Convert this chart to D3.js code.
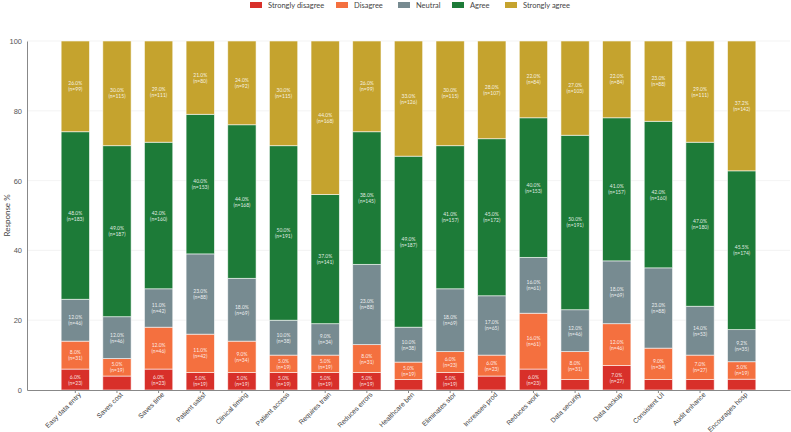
<!DOCTYPE html>
<html>
<head>
<meta charset="utf-8">
<script src="https://cdn.jsdelivr.net/npm/d3@7"></script>
<style>
  body { margin: 0; background: #fff; }
  svg { font-family: Lato, "Open Sans", sans-serif; }
</style>
</head>
<body>
<svg id="chart" width="791" height="432"></svg>
<script>
// survey items, left to right
let categories = ["Easy data entry", "Saves cost", "Saves time", "Patient satisf", "Clinical timing",
  "Patient access", "Requires train", "Reduces errors", "Healthcare ben", "Eliminates stor",
  "Increases prod", "Reduces work", "Data security", "Data backup", "Consistent UI",
  "Audit enhance", "Encourages hosp"]

let levels = ["Strongly disagree", "Disagree", "Neutral", "Agree", "Strongly agree"]

// percent of responses per level
let stronglyDisagreePct = [6, 4, 6, 5, 5, 5, 5, 5, 3, 5, 4, 6, 3, 7, 3, 3, 3.1]
let disagreePct = [8, 5, 12, 11, 9, 5, 5, 8, 5, 6, 6, 16, 8, 12, 9, 7, 5]
let neutralPct = [12, 12, 11, 23, 18, 10, 9, 23, 10, 18, 17, 16, 12, 18, 23, 14, 9.2]
let agreePct = [48, 49, 42, 40, 44, 50, 37, 38, 49, 41, 45, 40, 50, 41, 42, 47, 45.5]
let stronglyAgreePct = [26, 30, 29, 21, 24, 30, 44, 26, 33, 30, 28, 22, 27, 22, 23, 29, 37.2]

// counts per level
let stronglyDisagreeN = [23, 15, 23, 19, 19, 19, 19, 19, 11, 19, 15, 23, 11, 27, 11, 11, 12]
let disagreeN = [31, 19, 46, 42, 34, 19, 19, 31, 19, 23, 23, 61, 31, 46, 34, 27, 19]
let neutralN = [46, 46, 42, 88, 69, 38, 34, 88, 38, 69, 65, 61, 46, 69, 88, 53, 35]
let agreeN = [183, 187, 160, 153, 168, 191, 141, 145, 187, 157, 172, 153, 191, 157, 160, 180, 174]
let stronglyAgreeN = [99, 115, 111, 80, 92, 115, 168, 99, 126, 115, 107, 84, 103, 84, 88, 111, 142]

let yTicks = [0, 20, 40, 60, 80, 100]

let colors = ["#d8302a", "#f4703f", "#778b91", "#1d7b38", "#c5a32e"]

let pcts = [stronglyDisagreePct, disagreePct, neutralPct, agreePct, stronglyAgreePct]
let counts = [stronglyDisagreeN, disagreeN, neutralN, agreeN, stronglyAgreeN]

let table = categories.map(function(c, i) {
  let row = { category: c }
  levels.forEach(function(l, j) {
    row[l] = pcts[j][i]
    row[l + "_n"] = counts[j][i]
  })
  return row
})

let margin = { top: 41, left: 27, right: 1, bottom: 42 },
  width = 791 - margin.left - margin.right,
  height = 432 - margin.top - margin.bottom

let svg = d3.select("#chart")
let g = svg.append("g").attr("transform", "translate(" + margin.left + "," + margin.top + ")")

let x = d3.scaleBand()
  .domain(categories)
  .range([0, width])
  .paddingInner(0.32)
  .paddingOuter(0.82)

let y = d3.scaleLinear().domain([0, 100]).range([height, 0])

// grid
g.append("g").selectAll("line")
  .data(yTicks.slice(1))
  .enter().append("line")
  .attr("x1", 0).attr("x2", width)
  .attr("y1", d => y(d)).attr("y2", d => y(d))
  .attr("stroke", "#f0f0f0")
  .attr("stroke-width", 0.8)

let stacked = d3.stack().keys(levels)(table)

let layer = g.selectAll(".layer")
  .data(stacked)
  .enter().append("g")
  .attr("class", "layer")
  .attr("fill", (d, i) => colors[i])

layer.selectAll("rect")
  .data(d => d.map(s => Object.assign(s, { key: d.key })))
  .enter().append("rect")
  .attr("x", d => x(d.data.category))
  .attr("width", x.bandwidth())
  .attr("y", d => y(d[1]))
  .attr("height", d => y(d[0]) - y(d[1]))
  .attr("stroke", "#ffffff")
  .attr("stroke-opacity", 0.7)
  .attr("stroke-width", 0.8)

// segment labels
let labels = layer.selectAll("text")
  .data(d => d.filter(s => s.data[s.key] >= 5))
  .enter().append("text")
  .attr("text-anchor", "middle")
  .attr("fill", "#ffffff")
  .attr("fill-opacity", 0.88)
  .style("font-size", "5px")
  .attr("transform", d => "translate(" + (x(d.data.category) + x.bandwidth() / 2) + "," + ((y(d[0]) + y(d[1])) / 2) + ")")

labels.append("tspan").attr("x", 0).attr("y", -1)
  .text(d => d.data[d.key].toFixed(1) + "%")
labels.append("tspan").attr("x", 0).attr("y", 5)
  .text(d => "(n=" + d.data[d.key + "_n"] + ")")

// axes
let yAxis = g.append("g")
  .call(d3.axisLeft(y).tickValues(yTicks).tickSize(0).tickPadding(5))
yAxis.select(".domain").attr("stroke", "#888").attr("stroke-width", 1)
yAxis.selectAll("text").style("font-size", "7.5px").attr("fill", "#555")

let xAxis = g.append("g")
  .attr("transform", "translate(0," + height + ")")
  .call(d3.axisBottom(x).tickSize(3).tickSizeOuter(0))
xAxis.select(".domain").attr("stroke", "#888").attr("stroke-width", 1)
xAxis.selectAll(".tick line").attr("stroke", "#888")
xAxis.selectAll("text")
  .style("font-size", "6.8px")
  .attr("fill", "#444")
  .attr("text-anchor", "end")
  .attr("dx", "0.1em")
  .attr("dy", "0.3em")
  .attr("transform", "rotate(-45)")

svg.append("text")
  .attr("transform", "rotate(-90)")
  .attr("x", -(margin.top + height / 2))
  .attr("y", 10)
  .attr("text-anchor", "middle")
  .style("font-size", "8px")
  .attr("fill", "#444")
  .text("Response %")

// legend
let legendX = [250, 336, 398, 452, 505]
let legend = svg.append("g").selectAll("g")
  .data(levels)
  .enter().append("g")
  .attr("transform", (d, i) => "translate(" + legendX[i] + ",2)")
legend.append("rect")
  .attr("width", 12).attr("height", 6)
  .attr("fill", (d, i) => colors[i])
legend.append("text")
  .attr("x", 18).attr("y", 6)
  .style("font-size", "7.5px")
  .attr("fill", "#444")
  .text(d => d)
</script>
</body>
</html>
